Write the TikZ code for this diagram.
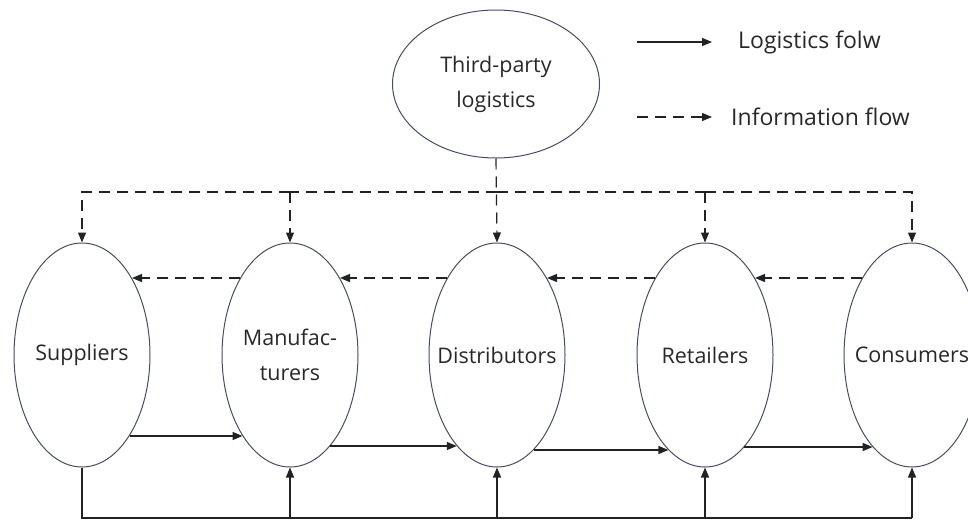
\documentclass[tikz,border=0pt]{standalone}
\usepackage{fontspec}
\setmainfont{Open Sans}
\usetikzlibrary{shapes.geometric,arrows.meta,calc}
\definecolor{edgecol}{RGB}{72,76,98}
\definecolor{linecol}{RGB}{34,34,34}
\definecolor{txtcol}{RGB}{40,40,40}
\begin{document}
\begin{tikzpicture}[x=1pt,y=-1pt,
  % negative inner sep keeps the ellipse at its minimum size whatever the label width
  party/.style={ellipse, draw=edgecol, line width=1pt, inner sep=-20pt,
    minimum width=136pt, minimum height=224pt, text=txtcol,
    font=\fontsize{21.5}{35}\selectfont, align=center},
  hub/.style={party, minimum width=207pt, minimum height=148pt},
  tip/.style={-{Triangle[length=10pt,width=8pt]}},
  flow/.style={draw=linecol, line width=1.4pt},
  flowarrow/.style={flow, tip},
  infoline/.style={draw=linecol, line width=1.2pt, dash pattern=on 11pt off 7pt},
  info/.style={infoline, tip},
  legendtext/.style={anchor=west, text=txtcol, font=\fontsize{23}{27}\selectfont, inner sep=0pt}
]
\clip (0,0) rectangle (968,519);
\useasboundingbox (0,0) rectangle (968,519);

% participants
\node[hub]   (tpl) at (496,84)  {Third-party\\logistics};
\node[party] (sup) at (82,355)  {Suppliers};
\node[party] (man) at (290,355) {Manufac-\\turers};
\node[party] (dis) at (497,355) {Distributors};
\node[party] (ret) at (705,355) {Retailers};
\node[party] (con) at (912,355) {Consumers};

% information flow from the 3PL to every party
\coordinate (bus) at (0,192);
\draw[info] (tpl.south) -- (dis.north);
\draw[info] (man.north |- bus) -- (sup.north |- bus) -- (sup.north);
\draw[info] (man.north |- bus) -- (man.north);
\draw[info] (ret.north |- bus) -- (con.north |- bus) -- (con.north);
\draw[infoline] (dis.north |- bus) -- (ret.north |- bus);
\draw[infoline] (dis.north |- bus) -- (man.north |- bus);
\draw[info] (ret.north |- bus) -- (ret.north);

% information flow upstream (77pt above the centres)
\draw[info] ($(man.center)+(-50,-77)$) -- ($(sup.center)+(50,-77)$);
\draw[info] ($(dis.center)+(-50,-77)$) -- ($(man.center)+(50,-77)$);
\draw[info] ($(ret.center)+(-50,-77)$) -- ($(dis.center)+(50,-77)$);
\draw[info] ($(con.center)+(-50,-77)$) -- ($(ret.center)+(50,-77)$);

% logistics flow downstream
\draw[flowarrow] ($(sup.center)+(47.5,81)$) -- ($(man.center)+(-47.5,81)$);
\draw[flowarrow] ($(man.center)+(40.2,91)$) -- ($(dis.center)+(-40.2,91)$);
\draw[flowarrow] ($(dis.center)+(36.6,95)$) -- ($(ret.center)+(-36.6,95)$);
\draw[flowarrow] ($(ret.center)+(39.4,92)$) -- ($(con.center)+(-39.4,92)$);

% return line along the bottom
\coordinate (base) at (0,517.8);
\draw[flow] (sup.south) -- (sup.south |- base) -- (con.south |- base);
\draw[flowarrow] (man.south |- base) -- (man.south);
\draw[flowarrow] (dis.south |- base) -- (dis.south);
\draw[flowarrow] (ret.south |- base) -- (ret.south);
\draw[flowarrow] (con.south |- base) -- (con.south);

% legend
\coordinate (ls1) at (637,42);
\coordinate (le1) at (712,42);
\coordinate (ls2) at (637,117);
\coordinate (le2) at (712,117);
\draw[flowarrow, line width=1.2pt] (ls1) -- (le1);
\draw[info] (ls2) -- (le2);
\node[legendtext] (lg1) at (738,42)  {Logistics folw};
\node[legendtext] (lg2) at (731,117) {Information flow};
\end{tikzpicture}
\end{document}
